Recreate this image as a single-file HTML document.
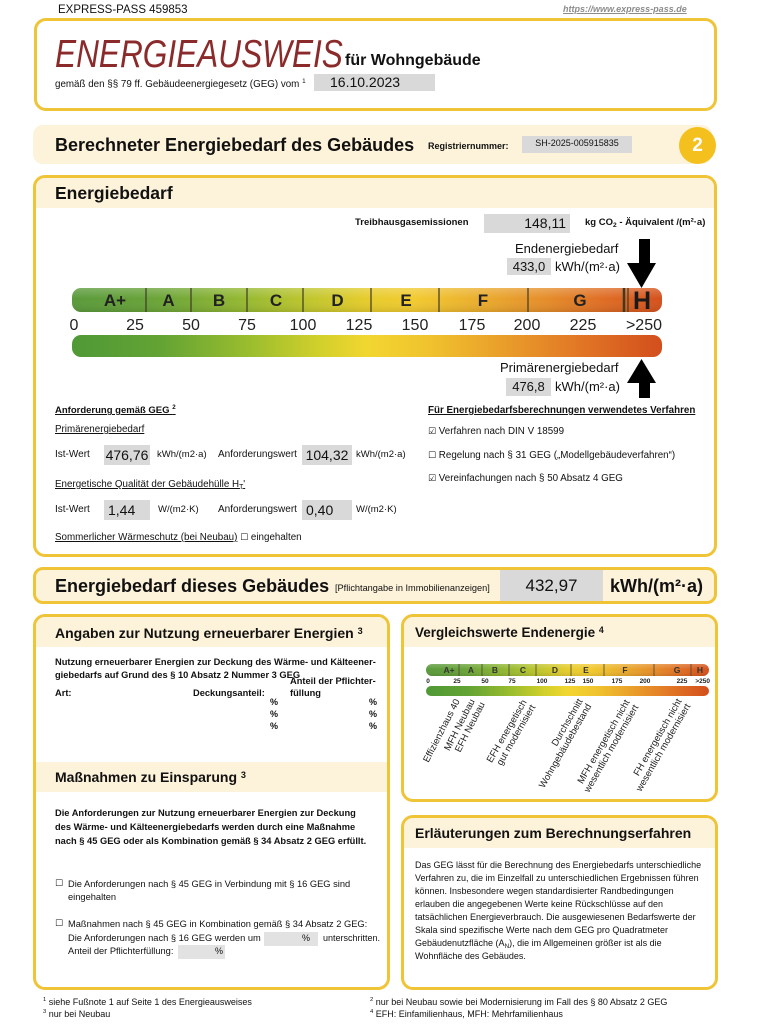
<!DOCTYPE html>
<html><head><meta charset="utf-8">
<style>
body{margin:0;width:768px;height:1024px;position:relative;background:#fff;font-family:"Liberation Sans",Arial,sans-serif;color:#111;overflow:hidden}
.a{position:absolute;white-space:nowrap;line-height:1}
.box{position:absolute;border:3px solid #efc437;border-radius:12px;box-sizing:border-box;background:#fff}
.band{position:absolute;background:#fdf2da}
.g{position:absolute;background:#d9d9d9}
.b{font-weight:bold}
.u{text-decoration:underline}
.cb{font-family:"DejaVu Sans",sans-serif;font-size:9px}
sub{font-size:70%;vertical-align:-2px;line-height:0}
sup{font-size:65%;vertical-align:4px;line-height:0}
</style></head><body>

<!-- header -->
<div class="a" style="left:58px;top:5px;font-size:11.5px">EXPRESS-PASS 459853</div>
<div class="a b u" style="left:563px;top:5px;font-size:9px;font-style:italic;color:#8c8c8c">https://www.express-pass.de</div>

<!-- box 1 -->
<div class="box" style="left:34px;top:18px;width:683px;height:93px"></div>
<div class="a" style="left:55px;top:35px;font-size:39px;font-style:italic;color:#8b2a2a;transform:scaleX(0.81);transform-origin:left top">ENERGIEAUSWEIS</div>
<div class="a b" style="left:345px;top:53px;font-size:16px">für Wohngebäude</div>
<div class="a" style="left:55px;top:80px;font-size:9.8px">gemäß den §§ 79 ff. Gebäudeenergiegesetz (GEG) vom <sup>1</sup></div>
<div class="g" style="left:314px;top:74px;width:121px;height:17px"></div>
<div class="a" style="left:330px;top:75px;font-size:14px">16.10.2023</div>

<!-- box 2 -->
<div class="band" style="left:33px;top:125px;width:679px;height:39px;border-radius:10px"></div>
<div class="a b" style="left:55px;top:136px;font-size:18px">Berechneter Energiebedarf des Gebäudes</div>
<div class="a b" style="left:428px;top:142px;font-size:9px">Registriernummer:</div>
<div class="g" style="left:522px;top:136px;width:110px;height:17px"></div>
<div class="a" style="left:522px;top:139px;width:110px;text-align:center;font-size:9px">SH-2025-005915835</div>
<div style="position:absolute;left:679px;top:127px;width:37px;height:37px;border-radius:50%;background:#f4c01e"></div>
<div class="a b" style="left:679px;top:136px;width:37px;text-align:center;font-size:19px;color:#fff">2</div>

<!-- box 3 -->
<div class="box" style="left:33px;top:175px;width:684px;height:382px"></div>
<div class="band" style="left:36px;top:178px;width:678px;height:30px;border-radius:9px 9px 0 0"></div>
<div class="a b" style="left:55px;top:185px;font-size:17.5px">Energiebedarf</div>

<div class="a b" style="left:355px;top:218px;font-size:9.5px">Treibhausgasemissionen</div>
<div class="g" style="left:484px;top:214px;width:86px;height:19px"></div>
<div class="a" style="left:484px;top:216px;width:82px;text-align:right;font-size:14px">148,11</div>
<div class="a b" style="left:585px;top:218px;font-size:9.5px">kg CO<sub>2</sub> - Äquivalent /(m²·a)</div>

<div class="a" style="left:515px;top:242px;font-size:13px">Endenergiebedarf</div>
<div class="g" style="left:507px;top:258px;width:44px;height:17px"></div>
<div class="a" style="left:507px;top:260px;width:44px;text-align:center;font-size:13px">433,0</div>
<div class="a" style="left:555px;top:260px;font-size:13px">kWh/(m²·a)</div>

<div class="a" style="left:500px;top:361px;font-size:13px">Primärenergiebedarf</div>
<div class="g" style="left:506px;top:378px;width:45px;height:18px"></div>
<div class="a" style="left:506px;top:380px;width:45px;text-align:center;font-size:13px">476,8</div>
<div class="a" style="left:555px;top:380px;font-size:13px">kWh/(m²·a)</div>

<div class="a b u" style="left:55px;top:406px;font-size:9.5px">Anforderung gemäß GEG <sup>2</sup></div>
<div class="a u" style="left:55px;top:425px;font-size:9.8px">Primärenergiebedarf</div>
<div class="a" style="left:55px;top:450px;font-size:10px">Ist-Wert</div>
<div class="g" style="left:104px;top:445px;width:46px;height:20px"></div>
<div class="a" style="left:104px;top:448px;width:46px;text-align:center;font-size:14px">476,76</div>
<div class="a" style="left:157px;top:450px;font-size:9.5px">kWh/(m2·a)</div>
<div class="a" style="left:218px;top:450px;font-size:10px">Anforderungswert</div>
<div class="g" style="left:302px;top:445px;width:50px;height:20px"></div>
<div class="a" style="left:302px;top:448px;width:50px;text-align:center;font-size:14px">104,32</div>
<div class="a" style="left:356px;top:450px;font-size:9.5px">kWh/(m2·a)</div>

<div class="a u" style="left:55px;top:480px;font-size:9.8px">Energetische Qualität der Gebäudehülle H<sub>T</sub>'</div>
<div class="a" style="left:55px;top:505px;font-size:10px">Ist-Wert</div>
<div class="g" style="left:104px;top:500px;width:46px;height:20px"></div>
<div class="a" style="left:108px;top:503px;font-size:14px">1,44</div>
<div class="a" style="left:158px;top:505px;font-size:9.5px">W/(m2·K)</div>
<div class="a" style="left:218px;top:505px;font-size:10px">Anforderungswert</div>
<div class="g" style="left:302px;top:500px;width:50px;height:20px"></div>
<div class="a" style="left:306px;top:503px;font-size:14px">0,40</div>
<div class="a" style="left:356px;top:505px;font-size:9.5px">W/(m2·K)</div>
<div class="a" style="left:55px;top:533px;font-size:9.8px"><span class="u">Sommerlicher Wärmeschutz (bei Neubau)</span> <span class="cb">☐</span> eingehalten</div>

<div class="a b u" style="left:428px;top:406px;font-size:9.8px">Für Energiebedarfsberechnungen verwendetes Verfahren</div>
<div class="a" style="left:428px;top:427px;font-size:9.8px"><span class="cb">☑</span> Verfahren nach DIN V 18599</div>
<div class="a" style="left:428px;top:451px;font-size:9.8px"><span class="cb">☐</span> Regelung nach § 31 GEG („Modellgebäudeverfahren“)</div>
<div class="a" style="left:428px;top:474px;font-size:9.8px"><span class="cb">☑</span> Vereinfachungen nach § 50 Absatz 4 GEG</div>

<!-- box 4 -->
<div class="box" style="left:33px;top:567px;width:684px;height:37px;background:#fdf2da;border-radius:10px"></div>
<div class="g" style="left:500px;top:570px;width:103px;height:31px"></div>
<div class="a b" style="left:55px;top:577px;font-size:18px">Energiebedarf dieses Gebäudes</div>
<div class="a" style="left:335px;top:584px;font-size:9.2px">[Pflichtangabe in Immobilienanzeigen]</div>
<div class="a" style="left:500px;top:577px;width:103px;text-align:center;font-size:17px">432,97</div>
<div class="a b" style="left:610px;top:577px;font-size:18px">kWh/(m²·a)</div>

<!-- left lower box -->
<div class="box" style="left:33px;top:614px;width:357px;height:376px"></div>
<div class="band" style="left:36px;top:617px;width:351px;height:30px;border-radius:9px 9px 0 0"></div>
<div class="a b" style="left:55px;top:626px;font-size:14px">Angaben zur Nutzung erneuerbarer Energien <sup>3</sup></div>
<div class="a b" style="left:55px;top:658px;font-size:9.3px">Nutzung erneuerbarer Energien zur Deckung des Wärme- und Kälteener-</div>
<div class="a b" style="left:55px;top:671px;font-size:9.3px">giebedarfs auf Grund des § 10 Absatz 2 Nummer 3 GEG</div>
<div class="a b" style="left:290px;top:677px;font-size:9.3px">Anteil der Pflichter-</div>
<div class="a b" style="left:290px;top:689px;font-size:9.3px">füllung</div>
<div class="a b" style="left:55px;top:689px;font-size:9.3px">Art:</div>
<div class="a b" style="left:193px;top:689px;font-size:9.3px">Deckungsanteil:</div>
<div class="a b" style="left:270px;top:698px;font-size:9px">%</div>
<div class="a b" style="left:270px;top:710px;font-size:9px">%</div>
<div class="a b" style="left:270px;top:722px;font-size:9px">%</div>
<div class="a b" style="left:369px;top:698px;font-size:9px">%</div>
<div class="a b" style="left:369px;top:710px;font-size:9px">%</div>
<div class="a b" style="left:369px;top:722px;font-size:9px">%</div>

<div class="band" style="left:36px;top:762px;width:351px;height:30px"></div>
<div class="a b" style="left:55px;top:770px;font-size:14px">Maßnahmen zu Einsparung <sup>3</sup></div>
<div class="a b" style="left:55px;top:809px;font-size:9.3px">Die Anforderungen zur Nutzung erneuerbarer Energien zur Deckung</div>
<div class="a b" style="left:55px;top:823px;font-size:9.3px">des Wärme- und Kälteenergiebedarfs werden durch eine Maßnahme</div>
<div class="a b" style="left:55px;top:837px;font-size:9.3px">nach § 45 GEG oder als Kombination gemäß § 34 Absatz 2 GEG erfüllt.</div>
<div class="a cb" style="left:55px;top:880px">☐</div>
<div class="a" style="left:68px;top:880px;font-size:9.3px">Die Anforderungen nach § 45 GEG in Verbindung mit § 16 GEG sind</div>
<div class="a" style="left:68px;top:893px;font-size:9.3px">eingehalten</div>
<div class="a cb" style="left:55px;top:920px">☐</div>
<div class="a" style="left:68px;top:920px;font-size:9.3px">Maßnahmen nach § 45 GEG in Kombination gemäß § 34 Absatz 2 GEG:</div>
<div class="g" style="left:264px;top:932px;width:54px;height:14px;background:#e2e2e2"></div>
<div class="a" style="left:68px;top:934px;font-size:9.3px">Die Anforderungen nach § 16 GEG werden um</div>
<div class="a" style="left:302px;top:934px;font-size:9px">%</div>
<div class="a" style="left:323px;top:934px;font-size:9px">unterschritten.</div>
<div class="g" style="left:178px;top:945px;width:47px;height:14px;background:#e2e2e2"></div>
<div class="a" style="left:68px;top:947px;font-size:9.3px">Anteil der Pflichterfüllung:</div>
<div class="a" style="left:215px;top:947px;font-size:9px">%</div>

<!-- right box 1 -->
<div class="box" style="left:401px;top:614px;width:317px;height:188px"></div>
<div class="band" style="left:404px;top:617px;width:311px;height:30px;border-radius:9px 9px 0 0"></div>
<div class="a b" style="left:415px;top:626px;font-size:13.5px">Vergleichswerte Endenergie <sup>4</sup></div>

<!-- right box 2 -->
<div class="box" style="left:401px;top:815px;width:317px;height:175px"></div>
<div class="band" style="left:404px;top:818px;width:311px;height:30px;border-radius:9px 9px 0 0"></div>
<div class="a b" style="left:415px;top:826px;font-size:14px">Erläuterungen zum Berechnungserfahren</div>
<div style="position:absolute;left:415px;top:859px;font-size:9px;line-height:13px;white-space:nowrap;color:#111">
Das GEG lässt für die Berechnung des Energiebedarfs unterschiedliche<br>
Verfahren zu, die im Einzelfall zu unterschiedlichen Ergebnissen führen<br>
können. Insbesondere wegen standardisierter Randbedingungen<br>
erlauben die angegebenen Werte keine Rückschlüsse auf den<br>
tatsächlichen Energieverbrauch. Die ausgewiesenen Bedarfswerte der<br>
Skala sind spezifische Werte nach dem GEG pro Quadratmeter<br>
Gebäudenutzfläche (A<sub>N</sub>), die im Allgemeinen größer ist als die<br>
Wohnfläche des Gebäudes.</div>

<!-- footer -->
<div class="a" style="left:43px;top:998px;font-size:9px"><sup>1</sup> siehe Fußnote 1 auf Seite 1 des Energieausweises</div>
<div class="a" style="left:43px;top:1010px;font-size:9px"><sup>3</sup> nur bei Neubau</div>
<div class="a" style="left:370px;top:998px;font-size:9px"><sup>2</sup> nur bei Neubau sowie bei Modernisierung im Fall des § 80 Absatz 2 GEG</div>
<div class="a" style="left:370px;top:1010px;font-size:9px"><sup>4</sup> EFH: Einfamilienhaus, MFH: Mehrfamilienhaus</div>

<!-- graphics -->
<svg style="position:absolute;left:0;top:0" width="768" height="1024" font-family="Liberation Sans, Arial, sans-serif">
<defs>
<linearGradient id="gt" x1="0" x2="1" y1="0" y2="0">
<stop offset="0" stop-color="#5a9a3b"/><stop offset="0.125" stop-color="#67a239"/>
<stop offset="0.2" stop-color="#79ab36"/><stop offset="0.3" stop-color="#98ba31"/>
<stop offset="0.4" stop-color="#bfc62d"/><stop offset="0.5" stop-color="#e6cc2c"/>
<stop offset="0.58" stop-color="#f2ca30"/><stop offset="0.68" stop-color="#ebb02d"/>
<stop offset="0.8" stop-color="#e58e2a"/><stop offset="0.9" stop-color="#df6d24"/>
<stop offset="1" stop-color="#d4501c"/>
</linearGradient>
<linearGradient id="gb" x1="0" x2="1" y1="0" y2="0">
<stop offset="0" stop-color="#4f9936"/><stop offset="0.15" stop-color="#63a334"/>
<stop offset="0.3" stop-color="#9abd2e"/><stop offset="0.42" stop-color="#d2d02b"/>
<stop offset="0.5" stop-color="#f2d630"/><stop offset="0.6" stop-color="#f0c42e"/>
<stop offset="0.72" stop-color="#eaa12b"/><stop offset="0.85" stop-color="#e27a26"/>
<stop offset="1" stop-color="#d34e1c"/>
</linearGradient>
<linearGradient id="gl" x1="0" x2="0" y1="0" y2="1">
<stop offset="0" stop-color="#fff" stop-opacity="0.22"/><stop offset="0.45" stop-color="#fff" stop-opacity="0"/>
<stop offset="1" stop-color="#000" stop-opacity="0.1"/>
</linearGradient>
</defs>

<!-- main scale -->
<rect x="72" y="288" width="590" height="24" rx="9" fill="url(#gt)"/>
<rect x="72" y="288" width="590" height="24" rx="9" fill="url(#gl)"/>
<g stroke="#3d3a24" stroke-width="1.2">
<line x1="146" y1="288" x2="146" y2="312"/><line x1="191" y1="288" x2="191" y2="312"/>
<line x1="247" y1="288" x2="247" y2="312"/><line x1="303" y1="288" x2="303" y2="312"/>
<line x1="371" y1="288" x2="371" y2="312"/><line x1="439" y1="288" x2="439" y2="312"/>
<line x1="528" y1="288" x2="528" y2="312"/><line x1="624" y1="288" x2="624" y2="312" stroke-width="2.5"/>
<line x1="628" y1="288" x2="628" y2="312"/>
</g>
<g font-weight="bold" font-size="17" fill="#222" text-anchor="middle">
<text x="115" y="306">A+</text><text x="168.5" y="306">A</text><text x="219" y="306">B</text>
<text x="276" y="306">C</text><text x="337.5" y="306">D</text><text x="406" y="306">E</text>
<text x="483" y="306">F</text><text x="580" y="306">G</text>
<text x="642" y="309" font-size="25" fill="#1a1a1a">H</text>
</g>
<g font-size="16" fill="#222" text-anchor="middle">
<text x="74" y="330">0</text><text x="135" y="330">25</text><text x="191" y="330">50</text>
<text x="247" y="330">75</text><text x="303" y="330">100</text><text x="359" y="330">125</text>
<text x="415" y="330">150</text><text x="472" y="330">175</text><text x="527" y="330">200</text>
<text x="583" y="330">225</text><text x="662" y="330" text-anchor="end">&gt;250</text>
</g>
<rect x="72" y="335" width="590" height="22" rx="9" fill="url(#gb)"/>

<!-- arrows -->
<rect x="639" y="239" width="11" height="26" fill="#000"/>
<polygon points="627,263 656,263 641.5,288" fill="#000"/>
<polygon points="641.5,359 627,383 656,383" fill="#000"/>
<rect x="639" y="381" width="11" height="17" fill="#000"/>

<!-- mini scale -->
<rect x="426" y="664" width="283" height="12" rx="6" fill="url(#gt)"/>
<rect x="426" y="664" width="283" height="12" rx="6" fill="url(#gl)"/>
<g stroke="#4a4630" stroke-width="0.8">
<line x1="459" y1="664" x2="459" y2="676"/><line x1="482" y1="664" x2="482" y2="676"/>
<line x1="509" y1="664" x2="509" y2="676"/><line x1="536" y1="664" x2="536" y2="676"/>
<line x1="571" y1="664" x2="571" y2="676"/><line x1="604" y1="664" x2="604" y2="676"/>
<line x1="654" y1="664" x2="654" y2="676"/><line x1="691" y1="664" x2="691" y2="676"/>
</g>
<g font-weight="bold" font-size="8.5" fill="#333" text-anchor="middle">
<text x="449" y="673">A+</text><text x="471" y="673">A</text><text x="495" y="673">B</text>
<text x="523" y="673">C</text><text x="555" y="673">D</text><text x="586" y="673">E</text>
<text x="625" y="673">F</text><text x="677" y="673">G</text><text x="700" y="673">H</text>
</g>
<g font-weight="bold" font-size="6.5" fill="#222" text-anchor="middle">
<text x="428" y="683">0</text><text x="457" y="683">25</text><text x="485" y="683">50</text>
<text x="512" y="683">75</text><text x="542" y="683">100</text><text x="570" y="683">125</text>
<text x="588" y="683">150</text><text x="617" y="683">175</text><text x="645" y="683">200</text>
<text x="682" y="683">225</text><text x="710" y="683" text-anchor="end">&gt;250</text>
</g>
<rect x="426" y="686" width="283" height="10" rx="5" fill="url(#gb)"/>

<g font-size="9.5" fill="#222" text-anchor="end">
<text transform="translate(460,701) rotate(-63)">Effizienzhaus 40</text>
<text transform="translate(475,701) rotate(-63)">MFH Neubau</text>
<text transform="translate(485,704) rotate(-63)">EFH Neubau</text>
<text transform="translate(527,702) rotate(-60)"><tspan x="0" y="0">EFH energetisch</tspan><tspan x="0" y="10">gut modernisiert</tspan></text>
<text transform="translate(583,701) rotate(-60)"><tspan x="0" y="0">Durchschnitt</tspan><tspan x="0" y="10">Wohngebäudebestand</tspan></text>
<text transform="translate(630,702) rotate(-60)"><tspan x="0" y="0">MFH energetisch nicht</tspan><tspan x="0" y="10">wesentlich modernisiert</tspan></text>
<text transform="translate(682,701) rotate(-60)"><tspan x="0" y="0">FH energetisch nicht</tspan><tspan x="0" y="10">wesentlich modernisiert</tspan></text>
</g>
</svg>
</body></html>
